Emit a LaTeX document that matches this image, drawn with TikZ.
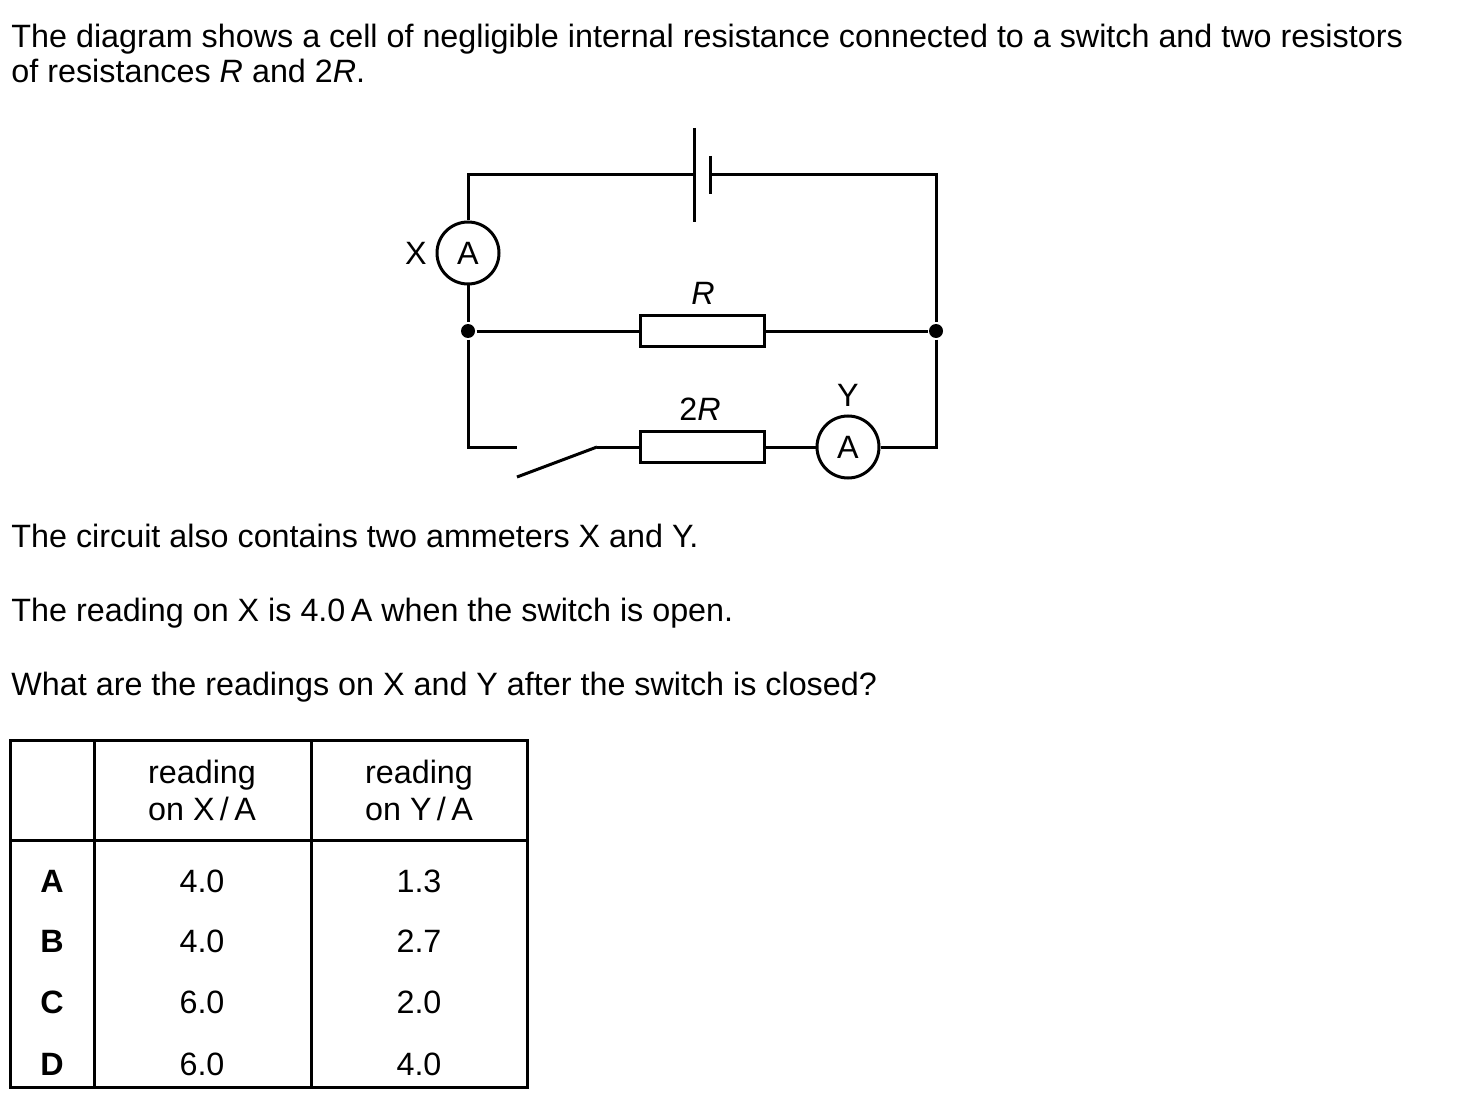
\documentclass[tikz,border=0pt]{standalone}
\usepackage{fontspec}
\setmainfont{Liberation Sans}
\usetikzlibrary{positioning}

\begin{document}
\begin{tikzpicture}[x=1pt,y=-1pt,line width=3pt,
    txt/.style={anchor=base west,inner sep=0pt,font=\fontsize{32.3}{38}\selectfont},
    lbl/.style={inner sep=0pt,font=\fontsize{32.3}{38}\selectfont},
    meter/.style={circle,draw,minimum size=62pt,inner sep=0pt,font=\fontsize{32.3}{38}\selectfont},
    resbox/.style={draw,minimum width=124pt,minimum height=31pt,inner sep=0pt},
    junction/.style={circle,fill,inner sep=0pt,minimum size=14pt}]
    \useasboundingbox (0,0) rectangle (1459,1107);
            % question text
            \node[txt] (L1) at (10,47.5) {The diagram shows a cell of negligible internal resistance connected to a switch and two resistors};
            \node[txt] (L2) at (10,83) {of resistances \textit{R} and 2\textit{R}.};
            % circuit
            \coordinate (TL) at (468,175);
            \coordinate (TR) at (936,175);
            \coordinate (BL) at (468,447);
            \coordinate (BR) at (936,447);
            \node[meter] (MX) at (468,253) {A};
            \node[lbl] (LX) at (416,253) {X};
            \node[junction] (JL) at (468,331) {};
            \node[junction] (JR) at (936,331) {};
            \node[resbox] (R1) at (702,331) {};
            \node[lbl] (LR1) at (703,293) {\textit{R}};
            \node[resbox] (R2) at (702,447) {};
            \node[lbl] (LR2) at (700,409) {2\textit{R}};
            \node[meter] (MY) at (848,447) {A};
            \node[lbl] (LY) at (848,395) {Y};
            \coordinate (C1) at (694,175);
            \coordinate (C2) at (710,175);
            \coordinate (S1) at (517,447);
            \coordinate (S2) at (517,477);
            \coordinate (S3) at (597,447);
            % cell
            \draw (C1) ++(0,-47) -- ++(0,94);
            \draw (C2) ++(0,-19) -- ++(0,38);
            \draw (C1) -- (TL) -- (MX);
            \draw (C2) -- (TR) -- (JR);
            \draw (MX) -- (JL) -- (R1) -- (JR) -- (BR) -- (MY) -- (R2) -- (S3);
            % switch
            \draw (JL) -- (BL) -- (S1);
            \draw (S2) -- (S3);
            % more text
            \node[txt] (L3) at (10,547) {The circuit also contains two ammeters X and Y.};
            \node[txt] (L4) at (10,621) {The reading on X is 4.0\,A when the switch is open.};
            \node[txt] (L5) at (10,695) {What are the readings on X and Y after the switch is closed?};
            % table
            \draw (10,740) rectangle (527,1087);
            \draw (94,740) -- (94,1087);
            \draw (311,740) -- (311,1087);
            \draw (10,840) -- (527,840);
            \node[lbl,anchor=base] (H1a) at (202,783) {reading};
            \node[lbl,anchor=base] (H1b) at (202,820) {on X\,/\,A};
            \node[lbl,anchor=base] (H2a) at (419,783) {reading};
            \node[lbl,anchor=base] (H2b) at (419,820) {on Y\,/\,A};
            \foreach \k/\yy/\a/\b in {A/881/4.0/1.3, B/941/4.0/2.7, C/1002/6.0/2.0, D/1064/6.0/4.0} {
                \node[lbl] (K\k) at (52,\yy) {\textbf{\k}};
                \node[lbl] (X\k) at (202,\yy) {\a};
                \node[lbl] (Y\k) at (419,\yy) {\b};
            }
        \end{tikzpicture}
\end{document}
